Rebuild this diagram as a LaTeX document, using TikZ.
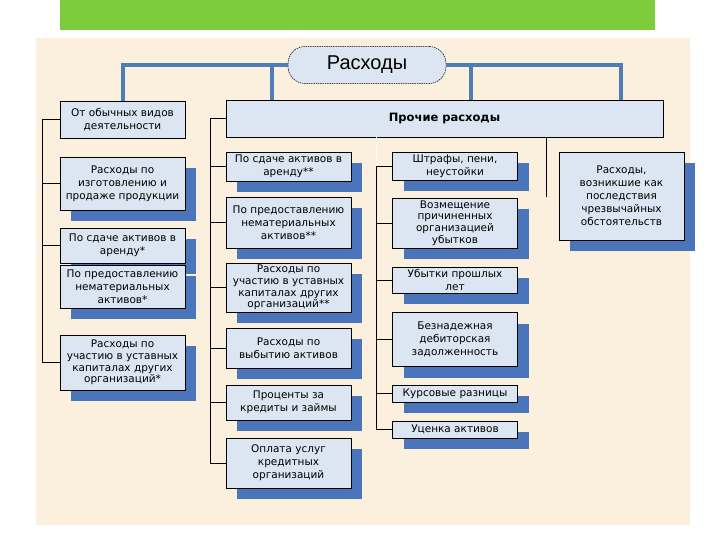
\documentclass[tikz,border=0pt]{standalone}
\usepackage{fontspec}
\setmainfont{DejaVu Sans}
\newfontfamily\titlefont{Liberation Sans}
\usetikzlibrary{shadows}
\definecolor{PanelBeige}{HTML}{FBF0DD}
\definecolor{BarGreen}{HTML}{7DCC3C}
\definecolor{BoxFill}{HTML}{DCE6F2}
\definecolor{ShadowBlue}{HTML}{4A75BA}
\definecolor{TrunkBlue}{HTML}{4F7EB6}

\begin{document}
\begin{tikzpicture}[
	x=1pt, y=-1pt, % pixel grid, y runs downwards
	% Style for the plain text boxes
	box/.style={
		rectangle,
		draw=black,
		line width=0.6pt,
		fill=BoxFill,
		minimum width=125pt,
		inner sep=1pt,
		align=center,
		font=\fontsize{10.5}{13}\selectfont
	},
	% Boxes with the blue shadow behind them
	sbox/.style={
		box,
		drop shadow={shadow xshift=11pt, shadow yshift=-11pt, fill=ShadowBlue, opacity=1}
	},
	% Tighter lines for the four-line boxes
	tight/.style={
		font=\fontsize{10.5}{11.6}\selectfont
	},
	% Style for the rounded top node
	root/.style={
		rectangle,
		rounded corners=17pt,
		draw=black,
		line width=0.5pt,
		dash pattern=on 1.5pt off 0.8pt,
		fill=BoxFill,
		minimum width=158pt,
		minimum height=37pt,
		font=\titlefont\fontsize{20}{22}\selectfont
	},
	% Style for the thick blue lines from the top node
	trunk/.style={
		draw=TrunkBlue,
		line width=4pt
	},
	% Style for the thin bracket lines
	branch/.style={
		draw=black,
		line width=0.8pt
	}
	]
	
	% 0. Page, panel and green bar
	\useasboundingbox (0,0) rectangle (720,540);
	\fill[white] (0,0) rectangle (720,540);
	\fill[PanelBeige] (36,38) rectangle (690,525);
	\fill[BarGreen] (60,0) rectangle (655,30);
	
	% 1. Top node and the two main groups
	\node[root] (Top) at (367,65) {Расходы};
	
	\node[box, minimum height=37pt] (L1) at (122.5,119.5) {От обычных видов\\деятельности};
	\node[box, minimum width=437pt, minimum height=37pt,
		font=\bfseries\fontsize{11.5}{13}\selectfont] (Other) at (444.5,118.5) {Прочие расходы};
	
	% 2. Left column
	\node[sbox, minimum height=53pt] (L2) at (122.5,183.5) {Расходы по\\изготовлению и\\продаже продукции};
	\node[sbox, minimum height=35pt] (L3) at (122.5,245.5) {По сдаче активов в\\аренду*};
	\node[sbox, minimum height=43pt] (L4) at (122.5,286.5) {По предоставлению\\нематериальных\\активов*};
	\node[sbox, tight, minimum height=55pt] (L5) at (122.5,362.5) {Расходы по\\участию в уставных\\капиталах других\\организаций*};
	
	% 3. Middle column
	\node[sbox, minimum height=29pt] (M1) at (288.5,166.5) {По сдаче активов в\\аренду**};
	\node[sbox, minimum height=51pt] (M2) at (288.5,222.5) {По предоставлению\\нематериальных\\активов**};
	\node[sbox, tight, minimum height=49pt] (M3) at (288.5,287.5) {Расходы по\\участию в уставных\\капиталах других\\организаций**};
	\node[sbox, minimum height=40pt] (M4) at (288.5,348) {Расходы по\\выбытию активов};
	\node[sbox, minimum height=35pt] (M5) at (288.5,402.5) {Проценты за\\кредиты и займы};
	\node[sbox, minimum height=50pt] (M6) at (288.5,463) {Оплата услуг\\кредитных\\организаций};
	
	% 4. Right column
	\node[sbox, minimum height=28pt] (R1) at (455,166) {Штрафы, пени,\\неустойки};
	\node[sbox, tight, minimum height=50pt] (R2) at (455,223) {Возмещение\\причиненных\\организацией\\убытков};
	\node[sbox, minimum height=26pt] (R3) at (455,280) {Убытки прошлых\\лет};
	\node[sbox, minimum height=54pt] (R4) at (455,339.5) {Безнадежная\\дебиторская\\задолженность};
	\node[sbox, minimum height=17pt] (R5) at (455,393.5) {Курсовые разницы};
	\node[sbox, minimum height=17pt] (R6) at (455,429.5) {Уценка активов};
	
	% 5. Far right box
	\node[sbox, minimum height=88pt] (X) at (621.5,196) {Расходы,\\возникшие как\\последствия\\чрезвычайных\\обстоятельств};
	
	% 6. Blue lines from the top node
	\draw[trunk] (Top.west) -| (L1.north);
	\draw[trunk] (Top.west) -| ([xshift=46pt]Other.north west);
	\draw[trunk] (Top.east) -| ([xshift=26.5pt]Other.north);
	\draw[trunk] (Top.east) -| ([xshift=-42pt]Other.north east);
	
	% 7. Left bracket
	\draw[branch] (L1.west) -- ++(-17,0) |- (L5.west);
	\draw[branch] (L2.west) -- ++(-17,0);
	\draw[branch] (L3.west) -- ++(-17,0);
	
	% 8. Middle bracket
	\draw[branch] (Other.west) -- ++(-15,0) |- (M6.west);
	\draw[branch] (M1.west) -- ++(-15,0);
	\draw[branch] (M2.west) -- ++(-15,0);
	\draw[branch] (M3.west) -- ++(-15,0);
	\draw[branch] (M4.west) -- ++(-15,0);
	\draw[branch] (M5.west) -- ++(-15,0);
	
	% 9. Right bracket
	\draw[branch] (R1.west) -- ++(-16,0) coordinate (Rtop) |- (R6.west);
	\draw[branch] (R2.west) -- ++(-16,0);
	\draw[branch] (R3.west) -- ++(-16,0);
	\draw[branch] (R4.west) -- ++(-16,0);
	\draw[branch] (R5.west) -- ++(-16,0);
	\draw[branch, draw=white, line width=1.2pt] (Other.south -| Rtop) -- (Rtop);
	
	% 10. Short drop towards the far right box
	\coordinate (Xend) at (546,197);
	\draw[branch] (Other.south -| Xend) -- (Xend);
	
\end{tikzpicture}
\end{document}
